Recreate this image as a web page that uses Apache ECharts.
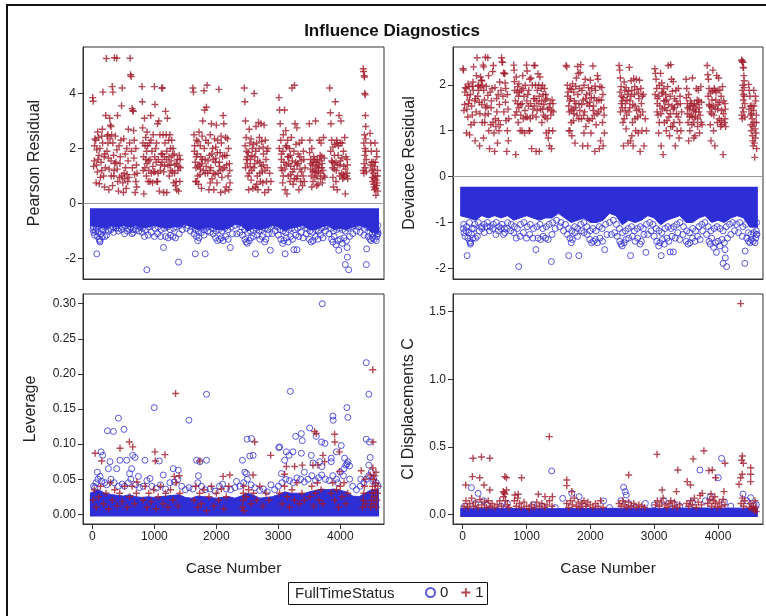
<!DOCTYPE html>
<html><head><meta charset="utf-8">
<script src="https://cdn.jsdelivr.net/npm/echarts@6/dist/echarts.min.js"></script>
<style>html,body{margin:0;padding:0;background:#fff}#c{width:766px;height:616px}</style>
</head><body><div id="c"></div>
<script>
// ---------- DATA ----------
const xTicks = [0, 1000, 2000, 3000, 4000];
const pearsonTicks = [-2, 0, 2, 4];
const devianceTicks = [-2, -1, 0, 1, 2];
const leverageTicks = [0, 0.05, 0.10, 0.15, 0.20, 0.25, 0.30];
const ciTicks = [0, 0.5, 1.0, 1.5];
const legendItems = ['0', '1'];

// cases with FullTimeStatus = 1 (shared by the two residual panels)
const redCases = [5,12,20,30,40,55,60,70,80,90,100,110,120,130,150,150,160,170,180,190,200,210,215,225,240,250,250,260,265,280,290,300,300,310,320,330,330,345,350,355,360,380,393,395,405,410,420,430,440,450,460,470,480,490,500,510,520,530,545,555,560,570,580,590,608,615,625,630,640,650,660,665,670,680,690,700,700,710,720,
800,805,810,815,820,830,840,850,860,860,870,880,880,890,900,910,920,930,930,940,950,960,970,980,990,1000,1010,1010,1020,1030,1040,1050,1050,1060,1070,1080,1090,1100,1110,1120,1130,1130,1140,1150,1150,1160,1170,1180,1190,1200,1200,1210,1220,1230,1240,1250,1250,1260,1270,1280,1290,1300,1310,1320,1330,1340,1350,1360,1370,1380,1390,1400,1410,1420,
1620,1630,1640,1650,1660,1665,1670,1680,1680,1690,1700,1700,1710,1720,1730,1735,1740,1750,1760,1760,1770,1780,1790,1800,1810,1820,1820,1830,1840,1850,1860,1870,1880,1890,1900,1900,1910,1920,1930,1940,1950,1960,1970,1980,1990,1990,2000,2010,2020,2030,2040,2050,2060,2060,2070,2080,2090,2100,2110,2120,2130,2140,2150,2160,2170,2180,2190,2200,2210,2220,
2450,2460,2470,2470,2480,2490,2500,2500,2510,2520,2530,2530,2540,2550,2560,2560,2570,2580,2590,2600,2610,2620,2620,2630,2640,2650,2650,2660,2670,2680,2690,2700,2700,2710,2720,2730,2740,2750,2760,2760,2770,2780,2790,2800,2810,2820,2830,2840,2860,2880,
3010,3020,3030,3040,3050,3050,3060,3070,3080,3080,3090,3100,3110,3120,3120,3130,3140,3150,3150,3160,3170,3180,3190,3200,3200,3210,3220,3230,3240,3250,3260,3260,3270,3280,3290,3300,3300,3310,3320,3330,3340,3350,3360,3370,3380,3390,3400,3410,3420,3430,
3500,3510,3520,3520,3530,3540,3540,3550,3560,3560,3570,3580,3590,3600,3600,3610,3620,3620,3630,3640,3640,3650,3660,3670,3680,3680,3690,3700,3700,3710,3720,3730,3740,3750,
3830,3840,3850,3860,3860,3870,3880,3880,3890,3900,3900,3910,3920,3930,3930,3940,3950,3950,3960,3970,3980,3990,4000,4000,4010,4020,4030,4040,4050,4050,4060,4070,4080,4090,4100,4110,4110,4120,
4370,4375,4385,4390,4395,4400,4405,4410,4390,4380,4400,4410,4420,4370,4380,4400,4420,4395,4410,4385,
4480,4490,4500,4505,4510,4515,4520,4530,4535,4540,4545,4550,4555,4560,4565,4570,4575,4580,4585,4590,4595,4600,4605,
35,65,85,105,140,165,195,235,270,285,305,325,340,370,400,445,475,505,535,575,600,645,675,715,
825,845,875,905,945,975,1005,1035,1065,1095,1125,1165,1195,1235,1265,1295,1325,1355,1395,1415,
1645,1675,1705,1745,1775,1805,1835,1865,1895,1925,1955,1985,2015,2045,2075,2105,2135,2165,2195,2215,
2465,2485,2515,2545,2575,2605,2635,2665,2695,2725,2755,2785,2815,
3015,3045,3075,3105,3135,3165,3195,3225,3255,3285,3315,3345,3375,3405,
3505,3525,3555,3585,3615,3645,3675,3705,3735,
3845,3875,3905,3935,3965,3995,4025,4055,4085,4115,
4485,4525,4545,4565,4585,4600];

const pearsonRedVals = [3.85,3.72,1.35,1.55,2.35,2.3,0.75,1.95,1.15,1.6,2.4,0.72,2.0,0.95,2.45,1.2,2.7,4.05,1.0,1.7,1.8,1.3,3.2,5.27,2.45,2.5,2.2,1.65,0.5,3.1,2.85,2.8,1.55,2.5,4.25,4.05,2.2,1.0,1.2,5.3,1.45,1.5,5.28,1.95,3.2,0.8,0.45,2.1,0.95,1.7,2.3,3.55,4.2,0.75,0.4,1.1,0.9,1.8,0.55,2.0,1.05,0.8,2.7,0.95,5.28,4.68,4.62,1.9,3.45,3.38,3.35,2.65,1.65,1.05,0.4,2.0,0.8,1.4,1.1,
4.25,3.7,2.75,2.2,1.2,0.35,3.1,2.1,1.6,2.4,1.0,2.6,1.45,2.1,0.8,1.2,2.2,1.6,0.8,3.2,1.1,1.9,0.75,2.5,1.15,4.25,3.6,1.15,2.0,1.5,0.8,2.9,0.8,1.1,3.0,0.45,2.5,1.4,1.8,4.2,4.2,1.8,2.5,1.15,0.4,1.7,2.2,3.35,2.5,1.9,0.4,3.1,1.4,2.3,1.0,2.5,1.4,2.0,1.55,2.3,1.15,2.0,0.75,1.8,1.4,0.65,0.8,0.5,1.6,1.2,0.45,1.75,0.8,1.3,
4.2,4.05,2.5,2.1,1.5,0.8,1.3,2.3,0.8,1.8,1.0,1.35,0.7,2.6,1.4,1.05,2.1,1.7,0.55,1.45,2.45,3.0,1.2,4.1,3.4,1.6,1.1,2.3,3.5,4.3,1.1,2.2,0.5,1.75,2.5,0.75,1.3,2.9,0.9,2.0,1.6,0.5,2.35,1.05,1.65,2.05,2.85,0.75,2.3,1.1,4.15,1.5,1.85,1.2,0.4,2.2,0.95,1.7,3.2,2.9,1.3,0.45,2.4,0.6,1.75,2.35,1.0,0.5,1.45,0.75,
4.2,3.7,3.0,1.3,2.4,1.9,1.45,1.7,1.0,0.5,2.7,1.1,2.2,1.6,0.85,2.35,1.2,2.0,0.55,2.15,4.0,1.45,1.7,0.6,2.8,2.2,0.7,1.0,0.5,2.95,2.0,1.5,1.1,0.8,2.9,2.25,1.15,0.75,1.8,1.4,2.85,0.4,2.3,1.6,0.8,1.3,2.0,0.5,1.1,0.8,
3.85,3.4,2.9,2.3,1.8,1.6,1.2,0.75,2.5,1.0,1.5,3.4,0.5,2.1,2.65,1.4,0.35,2.3,1.7,1.0,1.7,2.0,0.8,1.35,1.05,2.4,4.2,1.15,0.7,1.9,4.3,0.9,2.9,1.5,0.9,2.75,1.4,1.0,1.8,0.5,2.2,1.25,0.8,1.55,2.3,0.65,1.0,1.6,0.8,1.3,
2.9,2.3,1.6,1.25,1.0,0.6,2.0,1.4,0.8,1.5,1.7,1.2,0.95,3.0,1.15,1.5,1.0,0.65,1.6,0.7,1.4,1.3,2.3,1.55,1.1,0.9,2.2,1.7,1.3,0.75,1.2,2.4,1.65,0.95,
4.2,3.3,2.9,2.3,1.55,1.5,0.95,2.05,0.6,1.45,1.25,2.15,3.7,1.5,0.8,2.3,0.5,2.2,1.4,2.1,3.2,1.0,2.2,1.55,3.0,1.1,2.2,0.9,1.9,1.05,0.95,2.4,0.35,1.7,1.0,1.6,1.1,0.9,
4.9,4.8,4.65,4.6,4.0,3.95,3.2,2.8,2.5,2.2,2.0,1.9,1.6,1.2,1.1,1.3,1.15,1.75,2.35,1.45,
2.55,2.2,1.9,1.5,1.2,0.95,0.8,1.5,1.1,0.7,0.6,0.5,1.35,2.2,1.0,0.55,0.3,0.85,1.9,1.7,0.75,1.2,0.45,
2.1,1.4,2.6,1.75,1.5,2.2,0.6,1.9,1.25,2.35,1.0,0.65,1.75,2.45,1.25,1.45,1.0,2.35,1.3,1.55,2.2,1.3,2.3,0.6,
1.7,1.3,1.9,1.55,2.3,1.35,1.7,2.2,1.6,1.2,1.5,1.35,1.6,1.7,1.2,1.75,1.1,1.45,1.35,1.6,
1.9,1.7,2.25,1.25,1.6,2.0,1.35,1.55,1.2,1.8,1.1,1.5,1.85,1.35,2.45,1.25,1.75,1.4,2.0,1.2,
2.1,1.6,1.85,1.35,1.75,1.3,1.9,1.55,2.4,1.35,2.05,1.2,1.9,
2.0,1.3,1.9,1.25,2.05,1.45,1.75,1.55,1.25,2.15,1.45,1.7,1.15,1.9,
1.85,1.45,1.15,1.6,1.35,1.15,1.75,1.45,1.0,
1.9,1.3,1.75,1.2,1.75,1.4,1.65,1.35,1.25,1.4,
1.4,1.25,0.9,1.5,0.65,1.0];

const devianceRedVals = [2.35,2.32,1.44,1.57,1.94,1.92,0.95,1.77,1.30,1.59,1.96,0.91,1.79,1.13,1.97,1.34,2.06,2.39,1.18,1.65,1.70,1.41,2.20,2.59,1.97,1.99,1.88,1.62,0.67,2.17,2.10,2.09,1.57,1.99,2.43,2.39,1.88,1.18,1.34,2.60,1.50,1.54,2.59,1.77,2.20,1.0,0.61,1.84,1.13,1.65,1.92,2.29,2.42,0.95,0.55,1.26,1.09,1.70,0.73,1.79,1.22,1.0,2.06,1.13,2.59,2.50,2.49,1.75,2.26,2.25,2.24,2.04,1.62,1.22,0.55,1.79,1.0,1.47,1.26,
2.43,2.32,2.07,1.88,1.34,0.48,2.17,1.84,1.59,1.96,1.18,2.02,1.50,1.84,1.0,1.34,1.88,1.59,1.0,2.20,1.26,1.75,0.95,1.99,1.30,2.43,2.30,1.30,1.79,1.54,1.0,2.12,1.0,1.26,2.15,0.61,1.99,1.47,1.70,2.42,2.42,1.70,1.99,1.30,0.55,1.65,1.88,2.24,1.99,1.75,0.55,2.17,1.47,1.92,1.18,1.99,1.47,1.79,1.57,1.92,1.30,1.79,0.95,1.70,1.47,0.84,1.0,0.67,1.59,1.34,0.61,1.67,1.0,1.41,
2.42,2.39,1.99,1.84,1.54,1.0,1.41,1.92,1.0,1.70,1.18,1.44,0.89,2.02,1.47,1.22,1.84,1.65,0.73,1.50,1.97,2.15,1.34,2.40,2.25,1.59,1.26,1.92,2.27,2.44,1.26,1.88,0.67,1.67,1.99,0.95,1.41,2.12,1.09,1.79,1.59,0.67,1.94,1.22,1.62,1.82,2.10,0.95,1.92,1.26,2.41,1.54,1.72,1.34,0.55,1.88,1.13,1.65,2.20,2.12,1.41,0.61,1.96,0.78,1.67,1.94,1.18,0.67,1.50,0.95,
2.42,2.32,2.15,1.41,1.96,1.75,1.50,1.65,1.18,0.67,2.06,1.26,1.88,1.59,1.04,1.94,1.34,1.79,0.73,1.86,2.38,1.50,1.65,0.78,2.09,1.88,0.89,1.18,0.67,2.13,1.79,1.54,1.26,1.0,2.12,1.90,1.30,0.95,1.70,1.47,2.10,0.55,1.92,1.59,1.0,1.41,1.79,0.67,1.26,1.0,
2.35,2.25,2.12,1.92,1.70,1.59,1.34,0.95,1.99,1.18,1.54,2.25,0.67,1.84,2.04,1.47,0.48,1.92,1.65,1.18,1.65,1.79,1.0,1.44,1.22,1.96,2.42,1.30,0.89,1.75,2.44,1.09,2.12,1.54,1.09,2.07,1.47,1.18,1.70,0.67,1.88,1.37,1.0,1.57,1.92,0.84,1.18,1.59,1.0,1.41,
2.12,1.92,1.59,1.37,1.18,0.78,1.79,1.47,1.0,1.54,1.65,1.34,1.13,2.15,1.30,1.54,1.18,0.84,1.59,0.89,1.47,1.41,1.92,1.57,1.26,1.09,1.88,1.65,1.41,0.95,1.34,1.96,1.62,1.13,
2.42,2.22,2.12,1.92,1.57,1.54,1.13,1.82,0.78,1.50,1.37,1.86,2.32,1.54,1.0,1.92,0.67,1.88,1.47,1.84,2.20,1.18,1.88,1.57,2.15,1.26,1.88,1.09,1.75,1.22,1.13,1.96,0.48,1.65,1.18,1.59,1.26,1.09,
2.54,2.52,2.50,2.49,2.38,2.37,2.20,2.09,1.99,1.88,1.79,1.75,1.59,1.34,1.26,1.41,1.30,1.67,1.94,1.50,
2.01,1.88,1.75,1.54,1.34,1.13,1.0,1.54,1.26,0.89,0.78,0.67,1.44,1.88,1.18,0.73,0.42,1.04,1.75,1.65,0.95,1.34,0.61,
1.84,1.47,2.02,1.67,1.54,1.88,0.78,1.75,1.37,1.94,1.18,0.84,1.67,1.97,1.37,1.50,1.18,1.94,1.41,1.57,1.88,1.41,1.92,0.78,
1.65,1.41,1.75,1.57,1.92,1.44,1.65,1.88,1.59,1.34,1.54,1.44,1.59,1.65,1.34,1.67,1.26,1.50,1.44,1.59,
1.75,1.65,1.90,1.37,1.59,1.79,1.44,1.57,1.34,1.70,1.26,1.54,1.72,1.44,1.97,1.37,1.67,1.47,1.79,1.34,
1.84,1.59,1.72,1.44,1.67,1.41,1.75,1.57,1.96,1.44,1.82,1.34,1.75,
1.79,1.41,1.75,1.37,1.82,1.50,1.67,1.57,1.37,1.86,1.50,1.65,1.30,1.75,
1.72,1.50,1.30,1.59,1.44,1.30,1.67,1.50,1.18,
1.75,1.41,1.67,1.34,1.67,1.47,1.62,1.44,1.37,1.47,
1.47,1.37,1.09,1.54,0.84,1.18];

// FullTimeStatus = 0 cases lying below / along the dense band
const blueCases = [10,20,35,50,70,80,95,110,120,125,140,160,175,200,230,260,300,340,380,420,470,520,560,600,640,660,700,750,800,840,878,900,950,1000,1050,1100,1147,1180,1220,1260,1300,1340,1390,1400,1450,1520,1580,1640,1660,1680,1700,1720,1760,1800,1820,1860,1900,1950,1990,2020,2050,2080,2110,2150,2190,2225,2260,2330,2380,2420,2460,2480,2500,2530,2560,2600,2630,2660,2700,2740,2780,2800,2840,2870,2900,2950,3000,3040,3070,3090,3110,3130,3160,3200,3230,3250,3280,3300,3330,3370,3400,3450,3500,3530,3560,3600,3640,3680,3720,3760,3820,3860,3880,3900,3930,3960,3975,4000,4030,4060,4080,4100,4110,4115,4135,4150,4200,4260,4320,4380,4420,4425,4450,4480,4500,4520,4550,4580,4600,4605,4610,4590,
15,60,105,150,190,245,290,335,385,430,480,525,570,615,655,705,760,810,855,905,960,1010,1060,1110,1160,1210,1255,1310,1355,1410,1470,1540,1610,1660,1710,1755,1800,1850,1900,1945,1995,2040,2090,2140,2185,2240,2300,2360,2410,2455,2505,2550,2595,2645,2690,2735,2785,2830,2880,2930,2980,3030,3075,3120,3170,3215,3265,3310,3355,3405,3460,3510,3555,3605,3650,3700,3745,3795,3845,3890,3940,3985,4035,4080,4130,4180,4230,4290,4340,4390,4435,4475,4515,4560,4600];
const pearsonBlueVals = [-0.95,-1.05,-1.15,-1.0,-1.83,-1.2,-1.05,-1.3,-1.4,-1.35,-1.1,-1.2,-0.95,-1.2,-1.15,-1.0,-0.95,-1.05,-0.9,-1.0,-0.95,-1.1,-1.0,-0.95,-1.1,-1.05,-0.95,-1.0,-1.05,-1.2,-2.41,-1.15,-1.05,-1.2,-1.1,-1.2,-1.6,-1.2,-1.25,-1.15,-1.2,-1.25,-2.13,-1.1,-0.95,-0.9,-1.0,-1.1,-1.83,-1.2,-1.35,-1.25,-1.05,-1.15,-1.83,-1.0,-1.05,-1.1,-1.25,-1.35,-1.3,-1.25,-1.35,-1.2,-1.3,-1.6,-1.1,-1.1,-1.05,-1.15,-1.3,-1.4,-1.45,-1.35,-1.25,-1.2,-1.83,-1.15,-1.3,-1.2,-1.4,-1.3,-1.1,-1.7,-1.1,-1.0,-1.15,-1.3,-1.45,-1.35,-1.83,-1.25,-1.4,-1.2,-1.3,-1.68,-1.15,-1.68,-1.2,-1.05,-1.25,-1.1,-1.3,-1.4,-1.35,-1.2,-1.3,-1.15,-1.25,-1.0,-1.1,-1.3,-1.4,-1.2,-1.5,-1.35,-1.7,-1.3,-1.45,-1.25,-2.22,-1.35,-1.6,-1.95,-2.41,-1.2,-1.1,-1.0,-1.05,-1.15,-2.22,-1.65,-1.2,-1.3,-1.35,-1.25,-1.3,-1.35,-1.0,-0.8,-1.1,-1.2,
-0.85,-0.9,-0.8,-0.95,-0.85,-0.8,-0.9,-0.85,-0.8,-0.9,-0.85,-0.8,-0.9,-0.85,-0.95,-0.8,-0.85,-0.9,-0.95,-0.85,-0.8,-0.9,-0.85,-0.95,-0.9,-0.85,-0.95,-0.9,-0.85,-0.8,-0.75,-0.8,-0.85,-0.95,-1.0,-0.9,-0.95,-0.85,-0.8,-0.9,-1.0,-0.95,-1.0,-0.9,-0.95,-0.85,-0.8,-0.75,-0.85,-0.95,-1.05,-1.0,-0.95,-0.9,-1.0,-0.95,-0.9,-0.95,-0.85,-0.8,-0.85,-0.95,-1.0,-1.05,-0.95,-0.9,-0.95,-0.9,-0.85,-0.8,-0.9,-1.0,-1.05,-0.95,-1.0,-0.9,-0.85,-0.8,-0.9,-1.0,-0.95,-0.9,-0.95,-1.0,-0.9,-0.85,-0.8,-0.85,-0.8,-0.9,-0.85,-1.05,-1.1,-1.05,-1.1];
const devianceBlueVals = [-1.13,-1.22,-1.30,-1.18,-1.72,-1.34,-1.22,-1.41,-1.47,-1.44,-1.26,-1.34,-1.13,-1.34,-1.30,-1.18,-1.13,-1.22,-1.09,-1.18,-1.13,-1.26,-1.18,-1.13,-1.26,-1.22,-1.13,-1.18,-1.22,-1.34,-1.96,-1.30,-1.22,-1.34,-1.26,-1.34,-1.59,-1.34,-1.37,-1.30,-1.34,-1.37,-1.85,-1.26,-1.13,-1.09,-1.18,-1.26,-1.72,-1.34,-1.44,-1.37,-1.22,-1.30,-1.72,-1.18,-1.22,-1.26,-1.37,-1.44,-1.41,-1.37,-1.44,-1.34,-1.41,-1.59,-1.26,-1.26,-1.22,-1.30,-1.41,-1.47,-1.51,-1.44,-1.37,-1.34,-1.72,-1.30,-1.41,-1.34,-1.47,-1.41,-1.26,-1.65,-1.26,-1.18,-1.30,-1.41,-1.51,-1.44,-1.72,-1.37,-1.47,-1.34,-1.41,-1.64,-1.30,-1.64,-1.34,-1.22,-1.37,-1.26,-1.41,-1.47,-1.44,-1.34,-1.41,-1.30,-1.37,-1.18,-1.26,-1.41,-1.47,-1.34,-1.54,-1.44,-1.65,-1.41,-1.51,-1.37,-1.89,-1.44,-1.59,-1.77,-1.96,-1.34,-1.26,-1.18,-1.22,-1.30,-1.89,-1.62,-1.34,-1.41,-1.44,-1.37,-1.41,-1.44,-1.18,-1.0,-1.26,-1.34,
-1.04,-1.09,-1.0,-1.13,-1.04,-1.0,-1.09,-1.04,-1.0,-1.09,-1.04,-1.0,-1.09,-1.04,-1.13,-1.0,-1.04,-1.09,-1.13,-1.04,-1.0,-1.09,-1.04,-1.13,-1.09,-1.04,-1.13,-1.09,-1.04,-1.0,-0.95,-1.0,-1.04,-1.13,-1.18,-1.09,-1.13,-1.04,-1.0,-1.09,-1.18,-1.13,-1.18,-1.09,-1.13,-1.04,-1.0,-0.95,-1.04,-1.13,-1.22,-1.18,-1.13,-1.09,-1.18,-1.13,-1.09,-1.13,-1.04,-1.0,-1.04,-1.13,-1.18,-1.22,-1.13,-1.09,-1.13,-1.09,-1.04,-1.0,-1.09,-1.18,-1.22,-1.13,-1.18,-1.09,-1.04,-1.0,-1.09,-1.18,-1.13,-1.09,-1.13,-1.18,-1.09,-1.04,-1.0,-1.04,-1.0,-1.09,-1.04,-1.22,-1.26,-1.22,-1.26];

// lower / upper edge of the solid band of FullTimeStatus = 0 points
const pearsonBandLow = [[-40,-0.8],[100,-0.85],[200,-0.9],[300,-0.8],[400,-0.85],[500,-0.8],[600,-0.85],[700,-0.8],[800,-0.9],[900,-0.85],[1000,-0.8],[1100,-0.85],[1200,-0.9],[1300,-0.85],[1400,-0.85],[1500,-0.75],[1600,-0.85],[1700,-0.95],[1800,-0.9],[1900,-0.85],[2000,-0.95],[2100,-0.95],[2200,-0.9],[2300,-0.75],[2400,-0.8],[2500,-1.0],[2600,-0.9],[2700,-0.95],[2800,-0.9],[2900,-0.8],[3000,-0.85],[3100,-1.0],[3200,-0.9],[3300,-0.85],[3400,-0.8],[3500,-0.95],[3600,-0.95],[3700,-0.85],[3800,-0.8],[3900,-0.95],[4000,-0.9],[4100,-0.95],[4200,-0.85],[4300,-0.8],[4400,-0.85],[4500,-1.05],[4625,-1.05]];
const devianceBandLow = [[-40,-0.85],[100,-0.9],[200,-0.95],[300,-0.85],[400,-0.9],[500,-0.85],[600,-0.9],[700,-0.85],[800,-0.95],[900,-0.9],[1000,-0.85],[1100,-0.9],[1200,-0.95],[1300,-0.9],[1400,-0.9],[1500,-0.8],[1600,-0.9],[1700,-1.0],[1800,-0.95],[1900,-0.9],[2000,-1.0],[2100,-1.0],[2200,-0.95],[2300,-0.8],[2400,-0.85],[2500,-1.05],[2600,-0.95],[2700,-1.0],[2800,-0.95],[2900,-0.85],[3000,-0.9],[3100,-1.05],[3200,-0.95],[3300,-0.9],[3400,-0.85],[3500,-1.0],[3600,-1.0],[3700,-0.9],[3800,-0.85],[3900,-1.0],[4000,-0.95],[4100,-1.0],[4200,-0.9],[4300,-0.85],[4400,-0.9],[4500,-1.1],[4625,-1.1]];
const leverageBandHigh = [[-40,0.03],[100,0.035],[200,0.03],[300,0.028],[400,0.027],[500,0.026],[600,0.028],[700,0.025],[800,0.024],[900,0.025],[1000,0.024],[1100,0.025],[1200,0.026],[1300,0.027],[1400,0.028],[1500,0.024],[1600,0.023],[1700,0.026],[1800,0.025],[1900,0.024],[2000,0.023],[2100,0.024],[2200,0.025],[2300,0.023],[2400,0.026],[2500,0.03],[2600,0.027],[2700,0.023],[2800,0.024],[2900,0.025],[3000,0.028],[3100,0.032],[3200,0.03],[3300,0.03],[3400,0.029],[3500,0.032],[3600,0.034],[3700,0.036],[3800,0.035],[3900,0.036],[4000,0.034],[4100,0.032],[4200,0.026],[4300,0.025],[4400,0.03],[4500,0.035],[4625,0.035]];
const ciBandHigh = [[-40,0.045],[500,0.045],[1000,0.042],[1500,0.042],[2000,0.043],[2500,0.045],[3000,0.044],[3500,0.046],[4000,0.046],[4500,0.045],[4625,0.045]];

const leverageBlue = [[242,0.119],[338,0.118],[419,0.137],[510,0.121],[998,0.152],[1557,0.134],[1841,0.171],[3194,0.175],[3709,0.300],[3006,0.095],[3022,0.096],[3280,0.111],[3371,0.115],[3387,0.105],[3505,0.123],[3612,0.111],[3698,0.103],[3752,0.101],[3881,0.140],[3885,0.134],[4106,0.152],[4122,0.138],[4418,0.216],[4460,0.171],[4418,0.107],[4471,0.103],[2496,0.107],[2566,0.108],[2421,0.077],[2593,0.084],[2539,0.083],[1680,0.077],[1734,0.075],[1841,0.077],[1304,0.065],[1385,0.063],[1143,0.056],[1079,0.076],[123,0.054],[140,0.089],[166,0.084],[284,0.075],[445,0.077],[258,0.065],[553,0.077],[650,0.084],[687,0.081],[633,0.065],[392,0.065],[741,0.054],[848,0.077],[929,0.051],[3129,0.089],[3102,0.077],[3236,0.089],[3172,0.084],[3371,0.087],[3532,0.084],[3854,0.080],[3935,0.089],[4015,0.098],[4069,0.080],[4122,0.075],[4149,0.069],[4482,0.081],[4460,0.070],[4525,0.047],[3854,0.075],[3559,0.073],[3666,0.075],[3704,0.068],[2324,0.047],[2485,0.058],
[20,0.04],[40,0.038],[60,0.045],[90,0.05],[150,0.047],[200,0.045],[230,0.042],[300,0.05],[350,0.045],[420,0.04],[480,0.043],[520,0.04],[580,0.045],[620,0.05],[700,0.042],[760,0.038],[820,0.04],[880,0.048],[960,0.04],[1030,0.037],[1100,0.042],[1180,0.036],[1250,0.045],[1320,0.046],[1380,0.05],[1440,0.04],[1500,0.035],[1560,0.038],[1620,0.036],[1700,0.045],[1760,0.04],[1820,0.035],[1900,0.036],[1980,0.033],[2050,0.04],[2100,0.043],[2160,0.036],[2230,0.035],[2300,0.038],[2380,0.04],[2440,0.045],[2500,0.05],[2560,0.042],[2620,0.038],[2700,0.034],[2760,0.036],[2820,0.032],[2880,0.042],[2940,0.035],[3000,0.04],[3060,0.045],[3120,0.05],[3180,0.048],[3240,0.045],[3300,0.052],[3360,0.05],[3420,0.046],[3480,0.05],[3540,0.055],[3600,0.048],[3650,0.052],[3700,0.056],[3760,0.05],[3820,0.048],[3880,0.055],[3940,0.05],[4000,0.06],[4060,0.065],[4090,0.07],[4110,0.072],[4150,0.05],[4200,0.04],[4260,0.035],[4320,0.04],[4380,0.045],[4420,0.05],[4460,0.055],[4500,0.06],[4540,0.05],[4580,0.045],[4610,0.04],[4330,0.05],[4050,0.055],[3960,0.045],[3420,0.06],[3050,0.058],[2460,0.06],[1710,0.055],[600,0.058],[80,0.06]];
const leverageRed = [[43,0.087],[150,0.076],[445,0.094],[596,0.103],[650,0.096],[1009,0.089],[1015,0.076],[1170,0.085],[1342,0.172],[1320,0.054],[1401,0.055],[1734,0.076],[2109,0.054],[2217,0.056],[2593,0.056],[2619,0.103],[2877,0.084],[3102,0.057],[3129,0.068],[3263,0.068],[3387,0.070],[3585,0.118],[3612,0.115],[3559,0.070],[3639,0.070],[3720,0.084],[3747,0.075],[3908,0.114],[3912,0.103],[3988,0.089],[4337,0.062],[4525,0.206],[4528,0.103],[4525,0.066],[4482,0.056],[3988,0.061],[719,0.046],
[10,0.02],[30,0.035],[60,0.01],[100,0.025],[130,0.04],[180,0.015],[220,0.03],[260,0.008],[290,0.045],[320,0.02],[360,0.035],[400,0.012],[440,0.03],[480,0.018],[520,0.04],[560,0.01],[600,0.025],[640,0.04],[680,0.015],[710,0.03],[820,0.02],[850,0.04],[880,0.01],[910,0.03],[950,0.018],[990,0.035],[1030,0.008],[1060,0.025],[1100,0.04],[1140,0.015],[1180,0.03],[1220,0.01],[1260,0.035],[1300,0.02],[1350,0.045],[1380,0.012],[1410,0.03],[1640,0.02],[1670,0.04],[1700,0.01],[1730,0.03],[1760,0.015],[1800,0.035],[1840,0.005],[1880,0.025],[1920,0.04],[1960,0.012],[2000,0.03],[2040,0.02],[2080,0.036],[2120,0.008],[2160,0.025],[2200,0.04],[2420,0.01],[2430,0.02],[2435,0.03],[2440,0.04],[2445,0.005],[2480,0.025],[2520,0.035],[2560,0.015],[2600,0.03],[2650,0.02],[2700,0.04],[2750,0.012],[2800,0.03],[2850,0.02],[3020,0.03],[3060,0.015],[3100,0.04],[3140,0.025],[3180,0.01],[3220,0.035],[3260,0.02],[3300,0.045],[3340,0.015],[3380,0.03],[3420,0.02],[3510,0.025],[3540,0.04],[3570,0.012],[3600,0.03],[3630,0.045],[3660,0.02],[3690,0.035],[3720,0.015],[3850,0.03],[3880,0.045],[3910,0.02],[3940,0.035],[3970,0.01],[4000,0.04],[4030,0.025],[4060,0.045],[4090,0.015],[4120,0.03],[4360,0.01],[4370,0.02],[4380,0.03],[4390,0.04],[4400,0.05],[4410,0.015],[4490,0.01],[4500,0.02],[4510,0.03],[4520,0.04],[4530,0.05],[4540,0.015],[4550,0.025],[4560,0.035],[4570,0.045],[4580,0.01],[4590,0.02],[4600,0.03],[4605,0.04],[4550,0.055],[4575,0.06]];

const ciBlue = [[136,0.197],[1394,0.321],[2521,0.2],[2547,0.168],[2563,0.143],[1567,0.118],[1709,0.155],[1824,0.131],[3716,0.328],[4056,0.414],[4004,0.271],[4392,0.15],[4512,0.123],[4565,0.069],[2207,0.099],[2862,0.081],[241,0.155],
[30,0.06],[200,0.08],[330,0.1],[380,0.07],[600,0.06],[700,0.08],[1100,0.07],[1250,0.06],[1450,0.05],[1900,0.06],[2300,0.05],[2480,0.1],[2600,0.08],[2700,0.05],[3000,0.07],[3150,0.1],[3300,0.08],[3400,0.06],[3600,0.09],[3800,0.1],[3880,0.13],[4100,0.09],[4200,0.06],[4450,0.1],[4600,0.07]];
const ciRed = [[4355,1.56],[1357,0.575],[3045,0.444],[3779,0.471],[3611,0.41],[162,0.415],[294,0.424],[425,0.415],[4381,0.432],[4371,0.40],[4397,0.378],[4109,0.378],[3370,0.328],[3857,0.323],[3910,0.328],[3962,0.271],[4512,0.345],[4512,0.296],[4512,0.242],[4355,0.271],[4381,0.296],[4329,0.222],[2600,0.291],[1630,0.254],[1630,0.212],[1709,0.168],[152,0.279],[267,0.271],[47,0.217],[335,0.217],[425,0.18],[922,0.271],[660,0.279],[686,0.271],[634,0.168],[686,0.18],[1185,0.148],[1289,0.131],[1405,0.131],[818,0.143],[870,0.148],[3124,0.18],[3349,0.168],[3517,0.242],[3569,0.217],[3753,0.155],[4093,0.168],[3890,0.15],[3950,0.13],
[20,0.06],[50,0.1],[80,0.05],[110,0.08],[140,0.12],[170,0.06],[200,0.09],[240,0.05],[270,0.11],[300,0.07],[340,0.09],[370,0.05],[400,0.1],[430,0.06],[460,0.08],[500,0.05],[540,0.07],[580,0.1],[610,0.06],[640,0.13],[650,0.16],[660,0.15],[670,0.1],[700,0.07],[720,0.05],[810,0.1],[840,0.06],[860,0.12],[890,0.08],[920,0.05],[960,0.09],[1000,0.06],[1040,0.04],[1080,0.07],[1120,0.05],[1160,0.09],[1200,0.06],[1240,0.08],[1280,0.05],[1320,0.07],[1360,0.1],[1400,0.06],[1630,0.08],[1660,0.05],[1690,0.1],[1720,0.07],[1750,0.12],[1780,0.06],[1810,0.09],[1840,0.05],[1870,0.08],[1900,0.1],[1930,0.06],[1960,0.09],[2000,0.07],[2040,0.05],[2080,0.08],[2120,0.06],[2160,0.1],[2200,0.05],[2450,0.08],[2480,0.06],[2510,0.1],[2540,0.07],[2570,0.05],[2600,0.09],[2640,0.06],[2680,0.08],[2720,0.05],[2760,0.07],[2800,0.06],[2850,0.05],[3020,0.07],[3050,0.1],[3080,0.06],[3110,0.09],[3140,0.12],[3170,0.07],[3200,0.05],[3230,0.08],[3260,0.1],[3290,0.06],[3320,0.09],[3360,0.05],[3400,0.07],[3510,0.08],[3540,0.06],[3570,0.1],[3600,0.07],[3630,0.12],[3660,0.05],[3690,0.09],[3720,0.14],[3740,0.07],[3840,0.08],[3870,0.11],[3900,0.06],[3930,0.1],[3960,0.08],[3990,0.05],[4020,0.09],[4050,0.06],[4080,0.11],[4110,0.07],[4360,0.08],[4380,0.12],[4400,0.06],[4420,0.1],[4490,0.05],[4510,0.08],[4530,0.04],[4550,0.06],[4570,0.03],[4590,0.05],[4600,0.02],[4580,0.1]];

// ---------- CHART ----------
const BLUE = '#2E2ED6', RED = '#A31A2B', INK = '#222';
const FONT = '"Liberation Sans", Arial, sans-serif';
const PLUS = 'path://M4,0H6V4H10V6H6V10H4V6H0V4H4Z';
const pair = (xs, ys) => xs.map((x, i) => [x, ys[i]]);

const grids = [
  {left: 83, top: 47, width: 301, height: 232},
  {left: 453, top: 47, width: 310, height: 232},
  {left: 83, top: 294, width: 301, height: 230},
  {left: 453, top: 294, width: 310, height: 230}
].map(g => Object.assign(g, {show: true, borderColor: '#333', borderWidth: 1, backgroundColor: '#fff'}));

function xAx(i, bottom) {
  return {type: 'value', gridIndex: i, min: -152, max: 4705,
    axisLine: {show: true, onZero: false, lineStyle: {color: '#333'}},
    axisTick: {show: bottom, length: 5, customValues: xTicks, lineStyle: {color: '#333'}},
    axisLabel: {show: bottom, customValues: xTicks, color: INK, fontSize: 12, fontFamily: FONT, margin: 7, formatter: v => String(v)},
    splitLine: {show: false},
    name: bottom ? 'Case Number' : '', nameLocation: 'middle', nameGap: 37,
    nameTextStyle: {color: INK, fontSize: 15.5, fontFamily: FONT}};
}
function yAx(i, min, max, ticks, name, gap, fmt) {
  return {type: 'value', gridIndex: i, min: min, max: max,
    axisLine: {show: true, onZero: false, lineStyle: {color: '#333'}},
    axisTick: {show: true, length: 5, customValues: ticks, lineStyle: {color: '#333'}},
    axisLabel: {customValues: ticks, color: INK, fontSize: 12, fontFamily: FONT, margin: 7, formatter: fmt},
    splitLine: {show: false},
    name: name, nameLocation: 'middle', nameGap: gap,
    nameTextStyle: {color: INK, fontSize: 16, fontFamily: FONT}};
}
function band(i, data, origin) {
  return {type: 'line', xAxisIndex: i, yAxisIndex: i, data: data, symbol: 'none', silent: true, z: 1,
    lineStyle: {color: BLUE, width: 1}, areaStyle: {color: BLUE, opacity: 1, origin: origin}};
}
function blue(i, data) {
  return {name: '0', type: 'scatter', xAxisIndex: i, yAxisIndex: i, data: data, symbol: 'circle', symbolSize: 6, z: 2,
    itemStyle: {color: 'rgba(0,0,0,0)', borderColor: BLUE, borderWidth: 1}};
}
function red(i, data, zero) {
  const s = {name: '1', type: 'scatter', xAxisIndex: i, yAxisIndex: i, data: data, symbol: PLUS, symbolSize: 7, z: 3,
    itemStyle: {color: RED}};
  if (zero) s.markLine = {silent: true, symbol: 'none', label: {show: false}, data: [{yAxis: 0}],
    lineStyle: {color: '#9a9a9a', width: 1, type: 'solid'}};
  return s;
}

const option = {
  animation: false,
  backgroundColor: '#fff',
  textStyle: {fontFamily: FONT},
  grid: grids,
  xAxis: [xAx(0, false), xAx(1, false), xAx(2, true), xAx(3, true)],
  yAxis: [
    yAx(0, -2.745, 5.69, pearsonTicks, 'Pearson Residual', 40, v => String(v)),
    yAx(1, -2.23, 2.824, devianceTicks, 'Deviance Residual', 35, v => String(v)),
    yAx(2, -0.0138, 0.3138, leverageTicks, 'Leverage', 44, v => v.toFixed(2)),
    yAx(3, -0.0718, 1.631, ciTicks, 'CI Displacements C', 36, v => v.toFixed(1))
  ],
  legend: {data: [{name: legendItems[0], icon: 'circle'}, {name: legendItems[1], icon: PLUS}],
    left: 425, top: 585, itemWidth: 9, itemHeight: 9, itemGap: 13, padding: 0,
    textStyle: {color: INK, fontSize: 15, fontFamily: FONT}, selectedMode: false},
  graphic: [
    {type: 'rect', shape: {x: 7, y: 5, width: 800, height: 700}, style: {fill: 'none', stroke: '#111', lineWidth: 2}, silent: true},
    {type: 'text', x: 392, y: 31, style: {text: 'Influence Diagnostics', font: 'bold 17px ' + FONT, fill: '#111', textAlign: 'center', textVerticalAlign: 'middle'}},
    {type: 'rect', shape: {x: 288.5, y: 582.5, width: 199, height: 22}, style: {fill: 'none', stroke: '#111', lineWidth: 1}, silent: true},
    {type: 'text', x: 295, y: 593.5, style: {text: 'FullTimeStatus', font: '15px ' + FONT, fill: INK, textVerticalAlign: 'middle'}}
  ],
  series: [
    band(0, pearsonBandLow, -0.17), blue(0, pair(blueCases, pearsonBlueVals)), red(0, pair(redCases, pearsonRedVals), true),
    band(1, devianceBandLow, -0.22), blue(1, pair(blueCases, devianceBlueVals)), red(1, pair(redCases, devianceRedVals), true),
    band(2, leverageBandHigh, -0.003), blue(2, leverageBlue), red(2, leverageRed, false),
    band(3, ciBandHigh, -0.02), blue(3, ciBlue), red(3, ciRed, false)
  ]
};
const chart = echarts.init(document.getElementById('c'), null, {renderer: 'canvas'});
chart.setOption(option);
</script></body></html>
